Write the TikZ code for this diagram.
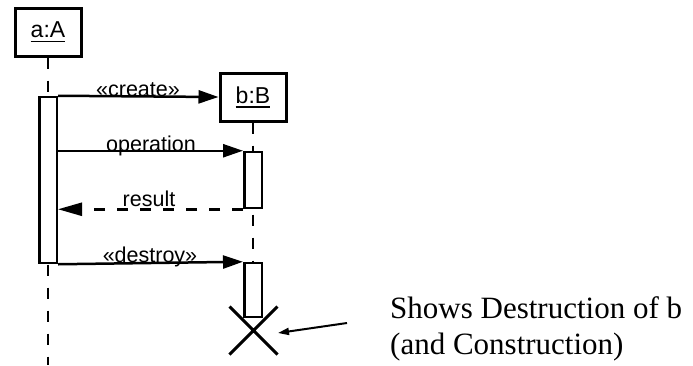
\documentclass[tikz,border=0pt]{standalone}
\usepackage{fontspec}
\newfontfamily\umlsans{Liberation Sans}
\newfontfamily\notefont{Liberation Serif}
\usetikzlibrary{arrows.meta,shapes.misc}
\newcommand\objname[1]{\vtop{\hbox{#1}\kern3pt\hrule height 1.4pt}}
\begin{document}
\begin{tikzpicture}[x=1pt,y=-1pt,
 objbox/.style={draw,line width=3pt,inner sep=0pt,minimum width=66pt,minimum height=48pt,font=\umlsans\fontsize{23}{27}\selectfont},
 lifeline/.style={line width=1.2pt,dash pattern=on 11pt off 12pt},
 actbar/.style={draw,fill=white,line width=2.5pt,inner sep=0pt,minimum width=17.5pt},
 msg/.style={line width=2.5pt,-{Triangle[length=20pt,width=13pt]}},
 reply/.style={line width=2.5pt,dash pattern=on 11pt off 12pt,-{Triangle[length=24pt,width=13pt]}},
 msglabel/.style={font=\umlsans\fontsize{21.5}{25}\selectfont,inner sep=0pt,anchor=base},
 note/.style={font=\notefont\fontsize{31}{37}\selectfont,inner sep=0pt,anchor=base west},
 destroyx/.style={draw,cross out,line width=3pt,inner sep=0pt,minimum width=45pt,minimum height=45pt},
 pointer/.style={line width=2pt,-{Triangle[length=11pt,width=7pt]}}]
\useasboundingbox (0,0) rectangle (693,365);
% objects
\node[objbox] (objA) at (48,32) {\objname{a:A}};
\node[objbox] (objB) at (253,97) {\objname{b:B}};
% lifelines
\coordinate (aEnd) at (48,365);
\coordinate (bEnd) at (253,317);
\draw[lifeline] (objA.south) -- (aEnd);
\draw[lifeline] (objB.south) -- (bEnd);
% activation bars
\node[actbar,minimum height=166pt] (actA) at (48,180) {};
\node[actbar,minimum height=56pt] (actB1) at (253,180) {};
\node[actbar,minimum height=54pt] (actB2) at (253,290) {};
% messages
\draw[msg] (actA.north east) -- (objB.west);
\draw[msg] (actA.east |- actB1.north west) -- (actB1.north west);
\draw[reply] (actB1.south west) -- (actA.east |- actB1.south west);
\draw[msg] (actA.south east) -- (actB2.north west);
% labels
\node[msglabel] (lblCreate) at (138,96) {«create»};
\node[msglabel] (lblOp) at (151,151) {operation};
\node[msglabel] (lblRes) at (149,206) {result};
\node[msglabel] (lblDestroy) at (150,262) {«destroy»};
% destruction mark
\node[destroyx] (xmark) at (253.5,330.5) {};
% note
\node[note] (note1) at (390,318) {Shows Destruction of b};
\node[note] (note2) at (390,354) {(and Construction)};
\coordinate (ptrStart) at (347,323);
\coordinate (ptrTip) at (278,333);
\draw[pointer] (ptrStart) -- (ptrTip);
\end{tikzpicture}
\end{document}
